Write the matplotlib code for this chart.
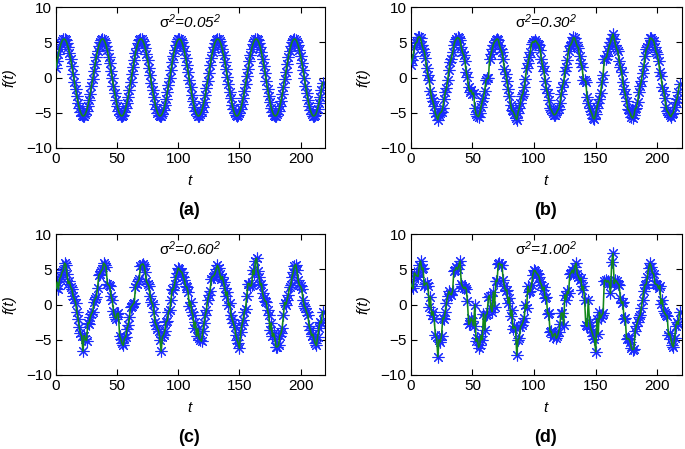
import numpy as np
import matplotlib
matplotlib.use("Agg")
import matplotlib.pyplot as plt

plt.rcParams['font.family'] = ['Liberation Sans', 'DejaVu Sans']
plt.rcParams['mathtext.fontset'] = 'custom'
plt.rcParams['mathtext.rm'] = 'Liberation Sans:italic'
plt.rcParams['mathtext.it'] = 'Liberation Sans:italic'
plt.rcParams['mathtext.sf'] = 'Liberation Sans'

# sample times: even (0, 2, ..., 218) and odd (1, 3, ..., 217)
t_even = np.arange(0, 219, 2)
t_odd = np.arange(1, 218, 2)

# (a) sigma = 0.05
fa_even = [1.36, 3.33, 4.77, 5.46, 5.29, 4.28, 2.60, 0.50, -1.67, -3.58, -4.92, -5.49, -5.20, -4.07, -2.30, -0.18,
           1.97, 3.83, 5.06, 5.50, 5.07, 3.85, 2.01, -0.14, -2.26, -4.04, -5.18, -5.49, -4.93, -3.61, -1.71, 0.46,
           2.56, 4.25, 5.28, 5.47, 4.79, 3.36, 1.41, -0.78, -2.84, -4.45, -5.36, -5.42, -4.64, -3.12, -1.09, 1.09,
           3.11, 4.63, 5.42, 5.36, 4.45, 2.84, 0.78, -1.41, -3.37, -4.79, -5.47, -5.27, -4.25, -2.56, -0.46, 1.71,
           3.61, 4.94, 5.49, 5.17, 4.04, 2.27, 0.14, -2.01, -3.85, -5.08, -5.50, -5.05, -3.82, -1.97, 0.19, 2.31,
           4.07, 5.19, 5.49, 4.92, 3.58, 1.67, -0.51, -2.60, -4.28, -5.29, -5.46, -4.76, -3.32, -1.35, 0.83, 2.88,
           4.48, 5.37, 5.41, 4.60, 3.06, 1.04, -1.14, -3.15, -4.66, -5.43, -5.34, -4.42, -2.80, -0.72]
fa_odd = [2.39, 4.13, 5.22, 5.48, 4.88, 3.51, 1.58, -0.60, -2.68, -4.34,
          -5.31, -5.45, -4.72, -3.25, -1.27, 0.91, 2.95, 4.53, 5.39, 5.40,
          4.55, 2.99, 0.95, -1.23, -3.22, -4.71, -5.44, -5.33, -4.36, -2.72,
          -0.64, 1.54, 3.47, 4.86, 5.48, 5.23, 4.16, 2.43, 0.32, -1.85,
          -3.71, -5.00, -5.50, -5.13, -3.94, -2.12, 0.00, 2.14, 3.95, 5.13,
          5.50, 5.00, 3.71, 1.84, -0.32, -2.44, -4.16, -5.24, -5.48, -4.86,
          -3.47, -1.54, 0.64, 2.72, 4.37, 5.33, 5.44, 4.70, 3.22, 1.22,
          -0.96, -2.99, -4.55, -5.40, -5.38, -4.52, -2.94, -0.91, 1.28, 3.26,
          4.73, 5.45, 5.31, 4.33, 2.67, 0.59, -1.58, -3.51, -4.88, -5.48,
          -5.22, -4.13, -2.38, -0.27, 1.89, 3.75, 5.02, 5.50, 5.11, 3.91,
          2.10, -0.05, -2.18, -3.99, -5.14, -5.49, -4.98, -3.68, -1.80]

# (b) sigma = 0.30
fb_even = [1.80, 3.10, 4.90, 5.70, 5.60, 4.10, 2.80, 0.30, -1.90, -3.40, -5.10, -6.00, -5.00, -4.30, -2.10, -0.40,
           2.20, 3.60, 5.20, 5.70, 5.30, 3.60, 2.30, 0.10, -2.00, -2.40, -4.40, -5.50, -5.10, -3.40, -1.90, -0.10,
           2.70, 4.00, 5.10, 5.50, 4.60, 3.60, 1.20, -0.50, -2.70, -4.70, -5.20, -6.00, -4.40, -2.60, -1.30, 1.30,
           2.90, 4.80, 5.00, 5.10, 4.60, 2.60, 0.90, -1.60, -3.20, -4.60, -5.30, -5.10, -4.50, -2.30, -0.70, 1.50,
           3.80, 4.70, 5.70, 5.00, 4.20, 2.00, -0.30, -0.60, -3.60, -4.80, -5.80, -5.20, -3.60, -2.20, 0.40, 2.70,
           3.80, 5.00, 6.20, 4.70, 3.80, 1.50, -0.70, -2.40, -4.50, -5.10, -5.80, -4.50, -3.50, -1.20, 0.60, 3.10,
           4.30, 5.60, 5.40, 4.40, 3.30, 0.80, -1.30, -2.90, -4.80, -5.40, -5.20, -4.20, -3.00, -0.90]
fb_odd = [2.5, 4.3, 5.0, 5.8, 4.7, 3.7, 1.3, -0.4, -2.9, -4.1,
          -5.5, -5.3, -4.9, -3.0, -1.5, 1.1, 2.7, 4.6, 5.5, 5.6,
          4.3, 3.2, 0.8, -1.4, -1.8, -2.2, -5.2, -5.6, -4.2, -2.9,
          -0.4, -0.1, 3.3, 4.7, 5.3, 5.4, 4.0, 2.6, 0.5, -1.7,
          -3.9, -4.8, -5.7, -5.0, -3.6, -2.3, -0.2, 2.0, 3.7, 5.1,
          5.3, 4.8, 3.9, 1.6, -0.5, -2.2, -4.4, -5.0, -5.3, -4.7,
          -3.7, -1.3, 0.9, 2.5, 4.5, 5.1, 5.6, 4.5, 3.0, 1.5,
          -0.4, -2.8, -4.3, -5.2, -5.9, -4.3, -3.1, -0.7, 2.6, 3.0,
          4.5, 5.6, 5.5, 4.1, 2.4, 0.8, -1.7, -3.3, -4.7, -5.6,
          -5.4, -4.3, -2.1, -0.5, 1.6, 4.0, 4.8, 5.6, 5.2, 3.6,
          2.3, 0.2, -1.9, -4.2, -5.0, -5.6, -5.0, -3.5, -2.0]

# (c) sigma = 0.60
fc_even = [2.30, 2.20, 4.00, 4.90, 5.70, 3.00, 2.50, 1.20, 0.30, -2.00, -4.10, -6.60, -4.90, -2.60, -1.80, -1.00,
           0.80, 2.40, 4.40, 5.00, 5.70, 3.00, 2.60, 0.70, -1.70, -1.30, -4.40, -5.50, -4.80, -3.40, -1.80, -0.20,
           0.30, 3.00, 3.60, 5.70, 5.50, 3.30, 2.60, 0.40, -1.00, -2.90, -3.80, -6.60, -4.30, -2.40, -1.00, 0.60,
           2.10, 4.00, 5.20, 4.70, 4.00, 2.60, 1.80, 0.40, -1.50, -2.50, -3.40, -5.00, -3.80, -1.50, 0.60, 2.00,
           4.00, 4.40, 5.60, 4.30, 4.00, 2.40, 1.80, 0.20, -2.00, -3.20, -5.00, -6.20, -2.90, -1.00, 1.20, 3.00,
           2.80, 4.30, 6.60, 4.00, 3.00, 0.90, 0.40, -1.50, -2.60, -4.10, -6.00, -5.80, -4.10, -1.50, 0.00, 1.40,
           2.80, 4.60, 5.70, 3.50, 2.60, 0.70, -0.50, -1.50, -3.60, -4.20, -5.50, -4.60, -2.40, -1.00]
fc_odd = [3.2, 3.7, 4.6, 5.9, 4.4, 3.3, 2.2, 0.8, -1.0, -3.2,
          -4.5, -4.4, -5.1, -2.7, -1.3, 0.4, 1.1, 4.2, 4.8, 5.9,
          5.3, 2.8, 1.2, -0.9, -2.0, -1.2, -4.9, -5.8, -4.6, -2.9,
          -0.4, 0.1, 2.5, 3.3, 5.5, 5.8, 4.6, 3.0, 1.2, 0.1,
          -2.5, -3.4, -5.0, -4.6, -3.7, -2.3, -0.8, 2.2, 3.0, 4.5,
          5.0, 4.6, 3.5, 2.5, -0.2, -1.0, -3.3, -4.5, -4.8, -5.2,
          -2.6, -0.8, 1.4, 3.7, 4.1, 5.0, 5.2, 3.6, 3.2, 1.3,
          -0.1, -1.5, -2.6, -4.3, -5.5, -3.9, -2.2, -0.6, 3.0, 2.6,
          4.9, 6.2, 4.8, 2.8, 1.6, 0.5, -0.8, -3.6, -4.5, -4.9,
          -6.0, -4.4, -3.3, 0.3, 0.7, 2.5, 3.9, 5.5, 4.9, 2.8,
          2.2, -0.2, -1.1, -3.0, -4.4, -4.9, -5.8, -3.3, -2.6]

# (d) sigma = 1.00
fd_even = [3.00, 2.30, 4.20, 4.00, 6.20, 5.20, 3.00, 2.60, 1.10, -1.00, -4.30, -7.40, -5.30, -1.90, -1.00, 1.20,
           1.50, 2.00, 4.90, 5.00, 6.20, 2.60, 2.50, 0.50, -2.60, -2.30, 0.00, -4.80, -5.70, -5.00, -3.60, -1.30,
           1.30, -1.00, -0.30, 3.30, 5.90, 5.70, 2.60, 2.10, 1.00, -0.80, -3.10, -7.20, -4.80, -2.90, -1.90, -0.50,
           1.80, 2.80, 4.90, 4.50, 4.00, 2.80, 2.50, 1.10, -1.20, -3.80, -4.30, -4.80, -3.90, -1.20, -2.90, 0.70,
           1.60, 4.50, 4.50, 5.90, 4.00, 3.80, 2.60, -2.90, 0.70, -3.40, -4.50, -6.70, -4.20, -1.90, -1.20, 3.50,
           3.40, 1.60, 7.30, 3.50, 3.00, 0.90, 0.40, -1.90, -4.80, -5.30, -6.40, -3.80, -2.40, -1.50, 0.70, 2.80,
           4.00, 5.90, 4.50, 3.00, 2.80, 2.70, 0.70, -1.20, -1.60, -4.10, -5.70, -4.80, -2.40, -1.00]
fd_odd = [2.6, 4.5, 4.1, 5.6, 5.0, 2.7, 3.1, -0.3, -1.5, -2.0,
          -4.6, -5.0, -4.4, -2.0, 0.2, 1.9, 1.4, 4.8, 5.3, 5.6,
          3.0, 2.3, 2.2, -2.8, -1.9, -3.0, -5.2, -6.1, -4.4, -1.3,
          -1.5, 1.1, -0.5, 1.8, 3.4, 5.8, 5.6, 3.5, 2.0, 0.2,
          -1.6, -3.4, -3.3, -5.0, -3.2, -2.5, 0.0, 2.6, 1.9, 4.2,
          4.8, 4.3, 3.2, 2.1, 0.9, -1.3, -3.9, -4.6, -4.1, -4.5,
          -2.7, -1.2, 1.4, 1.9, 4.3, 4.9, 5.4, 4.4, 3.5, 2.1,
          0.7, -3.1, -2.4, -3.9, -4.9, -2.0, -1.1, -1.5, 3.4, 3.2,
          3.1, 6.0, 3.0, 3.3, 2.8, 0.2, -2.0, -4.9, -4.9, -6.2,
          -6.3, -3.0, -1.8, -0.5, 1.9, 2.9, 5.2, 5.4, 4.4, 2.9,
          2.3, 0.1, -0.9, -1.5, -4.3, -4.9, -6.0, -3.0, -2.8]

series = [(fa_even, fa_odd), (fb_even, fb_odd), (fc_even, fc_odd), (fd_even, fd_odd)]
sigma_labels = ['0.05', '0.30', '0.60', '1.00']
panel_labels = ['(a)', '(b)', '(c)', '(d)']


def merge(ev, od):
    n_e = min(len(ev), len(t_even))
    n_o = min(len(od), len(t_odd))
    tt = np.concatenate([t_even[:n_e], t_odd[:n_o]])
    vv = np.concatenate([np.asarray(ev[:n_e], float), np.asarray(od[:n_o], float)])
    order = np.argsort(tt, kind='stable')
    return tt[order], vv[order]


W, H = 685, 449
fig = plt.figure(figsize=(W / 100, H / 100), dpi=100)

# axes boxes in pixels: left, top, right, bottom
boxes = [(56, 7.3, 325, 147.7), (410.7, 7.3, 682, 147.7),
         (56, 234.3, 325, 375), (410.7, 234.3, 682, 375)]

asterisk = (8, 2, 0)

for (ev, od), sig, plab, (l, tp, r, b) in zip(series, sigma_labels, panel_labels, boxes):
    ax = fig.add_axes([l / W, 1 - b / H, (r - l) / W, (b - tp) / H])
    tt, vv = merge(ev, od)
    ax.plot(tt, vv, linestyle='none', marker=asterisk, markersize=8.5,
            markeredgecolor='#1a2cff', markerfacecolor='#1a2cff', markeredgewidth=0.8, zorder=2)
    ax.plot(tt, vv, color='#12881a', linewidth=1.15, zorder=3)
    ax.set_xlim(0, 220)
    ax.set_ylim(-10, 10)
    ax.set_xticks([0, 50, 100, 150, 200])
    ax.set_yticks([-10, -5, 0, 5, 10])
    ax.tick_params(direction='in', top=True, right=True, labelsize=11, length=4, width=0.8, pad=3)
    for s in ax.spines.values():
        s.set_linewidth(0.8)
    ax.set_ylabel('f(t)', fontstyle='italic', fontsize=11, labelpad=7)
    ax.text(110, 7.9, r'$\mathsf{\sigma}^{2}\text{=' + sig + r'}^{2}$', ha='center', va='center', fontsize=11)
    cx = (l + r) / 2
    fig.text((cx - 1) / W, 1 - (b + 33) / H, 't', fontstyle='italic', fontsize=11, ha='center', va='center')
    fig.text((cx - 1) / W, 1 - (b + 63) / H, plab, fontweight='bold', fontsize=13, ha='center', va='center')

fig.savefig('out.png', dpi=100)
